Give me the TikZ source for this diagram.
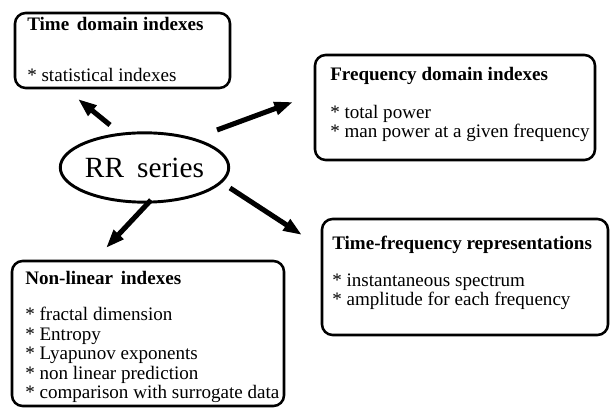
\documentclass[tikz,border=0pt]{standalone}
\usepackage{fontspec}
\setmainfont{Liberation Serif}
\usetikzlibrary{arrows.meta,shapes.geometric,fit}
\begin{document}
\begin{tikzpicture}[x=0.75pt,y=-0.75pt,
  box/.style={draw, line width=1.9pt, rounded corners=8pt, inner sep=0pt},
  txt/.style={anchor=base west, inner sep=0pt, font=\fontsize{14.3}{16}\selectfont},
  ttl/.style={txt, font=\fontsize{14.3}{16}\selectfont\bfseries},
  bigarrow/.style={line width=3.8pt, -{Triangle[length=14pt,width=9.5pt]}},
  rrnode/.style={ellipse, draw, line width=2.2pt, inner sep=0pt,
    minimum width=116pt, minimum height=52pt, font=\fontsize{22}{24}\selectfont}
]
\useasboundingbox (0,0) rectangle (611,409);

% Time domain
\node[box, fit={(15,13) (230,88)}] (tbox) {};
\node[ttl] (tt) at (27,31) {Time\hspace{0.4em}domain indexes};
\node[txt] (t1) at (27,82) {* statistical indexes};

% Frequency domain
\node[box, fit={(315,55) (595,160)}] (fbox) {};
\node[ttl] (ft) at (330,80.5) {Frequency domain indexes};
\node[txt] (f1) at (330,119) {* total power};
\node[txt] (f2) at (330,138) {* man power at a given frequency};

% Time-frequency
\node[box, fit={(322,219) (608,335)}] (tfbox) {};
\node[ttl] (tft) at (332,250) {Time-frequency representations};
\node[txt] (tf1) at (332,287) {* instantaneous spectrum};
\node[txt] (tf2) at (332,306) {* amplitude for each frequency};

% Non-linear
\node[box, fit={(12,261) (284,406)}] (nbox) {};
\node[ttl] (nt) at (25,284.5) {Non-linear\hspace{0.4em}indexes};
\node[txt] (n1) at (25,321) {* fractal dimension};
\node[txt] (n2) at (25,340.5) {* Entropy};
\node[txt] (n3) at (25,360) {* Lyapunov exponents};
\node[txt] (n4) at (25,379.5) {* non linear prediction};
\node[txt] (n5) at (25,399) {* comparison with surrogate data};

% RR series
\node[rrnode] (rr) at (144.5,167.5) {RR\hspace{0.45em}series};

% arrow end points
\coordinate (a1s) at (110,125); \coordinate (a1e) at (78,99);
\coordinate (a2s) at (217,130); \coordinate (a2e) at (293,102);
\coordinate (a3s) at (151,200); \coordinate (a3e) at (106,248);
\coordinate (a4s) at (230,188); \coordinate (a4e) at (302,235);

\draw[bigarrow] (a1s) -- (a1e);
\draw[bigarrow] (a2s) -- (a2e);
\draw[bigarrow] (a3s) -- (a3e);
\draw[bigarrow] (a4s) -- (a4e);
\end{tikzpicture}
\end{document}
